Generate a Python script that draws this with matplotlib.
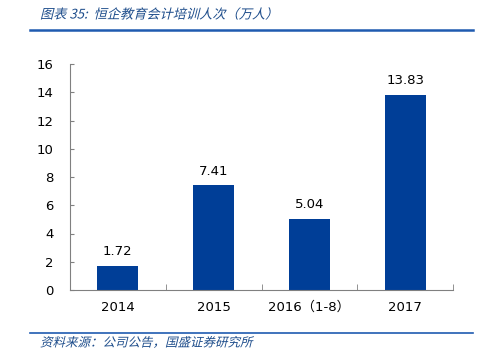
import matplotlib
matplotlib.use("Agg")
import matplotlib.pyplot as plt
from matplotlib.lines import Line2D
from matplotlib.patheffects import AbstractPathEffect
from matplotlib.transforms import Affine2D

plt.rcParams['font.family'] = ['DejaVu Sans', 'Noto Sans CJK SC']

categories = ["2014", "2015", "2016（1-8）", "2017"]
values = [1.72, 7.41, 5.04, 13.83]
labels = ["1.72", "7.41", "5.04", "13.83"]
yticks = [0, 2, 4, 6, 8, 10, 12, 14, 16]


class Slant(AbstractPathEffect):
    def __init__(self, deg=14):
        super().__init__()
        self.deg = deg

    def draw_path(self, renderer, gc, tpath, affine, rgbFace=None):
        m = affine.get_matrix()
        tx, ty = m[0, 2], m[1, 2]
        sk = Affine2D().translate(-tx, -ty).skew_deg(self.deg, 0).translate(tx, ty)
        renderer.draw_path(gc, tpath, affine + sk, rgbFace)


fig = plt.figure(figsize=(4.87, 3.56), dpi=100)
ax = fig.add_axes([70/487, 1 - 290/356, (453-70)/487, (290-64)/356])

bar_color = "#003E97"
x = list(range(len(categories)))
ax.bar(x, values, width=0.43, color=bar_color, zorder=2)
for xi, v, l in zip(x, values, labels):
    ax.text(xi, v + 0.55, l, ha='center', va='bottom', fontsize=9.5, color='black')

ax.set_xlim(-0.5, len(categories) - 0.5)
ax.set_ylim(0, 16)
ax.set_yticks(yticks)
ax.set_yticklabels([str(t) for t in yticks], fontsize=9.5)
ax.set_xticks(x)
ax.set_xticklabels(categories, fontsize=9.5,
                   family=['DejaVu Sans', 'Noto Sans CJK SC'])
ax.tick_params(axis='x', length=0, pad=8)
ax.set_xticks([i + 0.5 for i in range(len(categories))], minor=True)
ax.tick_params(axis='x', which='minor', direction='in', length=4, color='#808080')
ax.tick_params(axis='y', direction='in', length=3, color='#808080', pad=12)
for s in ['top', 'right']:
    ax.spines[s].set_visible(False)
ax.spines['left'].set_color('#808080')
ax.spines['bottom'].set_color('#808080')

# header and footer
fig.text(40/487, 1 - 15/356, "图表 35:  恒企教育会计培训人次（万人）", fontsize=9.5,
         color='#1F4E8C', va='center',
         family=['Noto Sans CJK SC', 'DejaVu Sans'], path_effects=[Slant(14)])
fig.add_artist(Line2D([30/487, 473/487], [1 - 30/356, 1 - 30/356],
                      color='#1F5BB0', lw=1.8, transform=fig.transFigure))
fig.add_artist(Line2D([30/487, 473/487], [1 - 333/356, 1 - 333/356],
                      color='#1F5BB0', lw=1.2, transform=fig.transFigure))
fig.text(40/487, 1 - 343/356, "资料来源：公司公告，国盛证券研究所", fontsize=9,
         color='#1F4E8C', va='center',
         family=['Noto Sans CJK SC', 'DejaVu Sans'], path_effects=[Slant(14)])

fig.savefig("out.png", dpi=100)
